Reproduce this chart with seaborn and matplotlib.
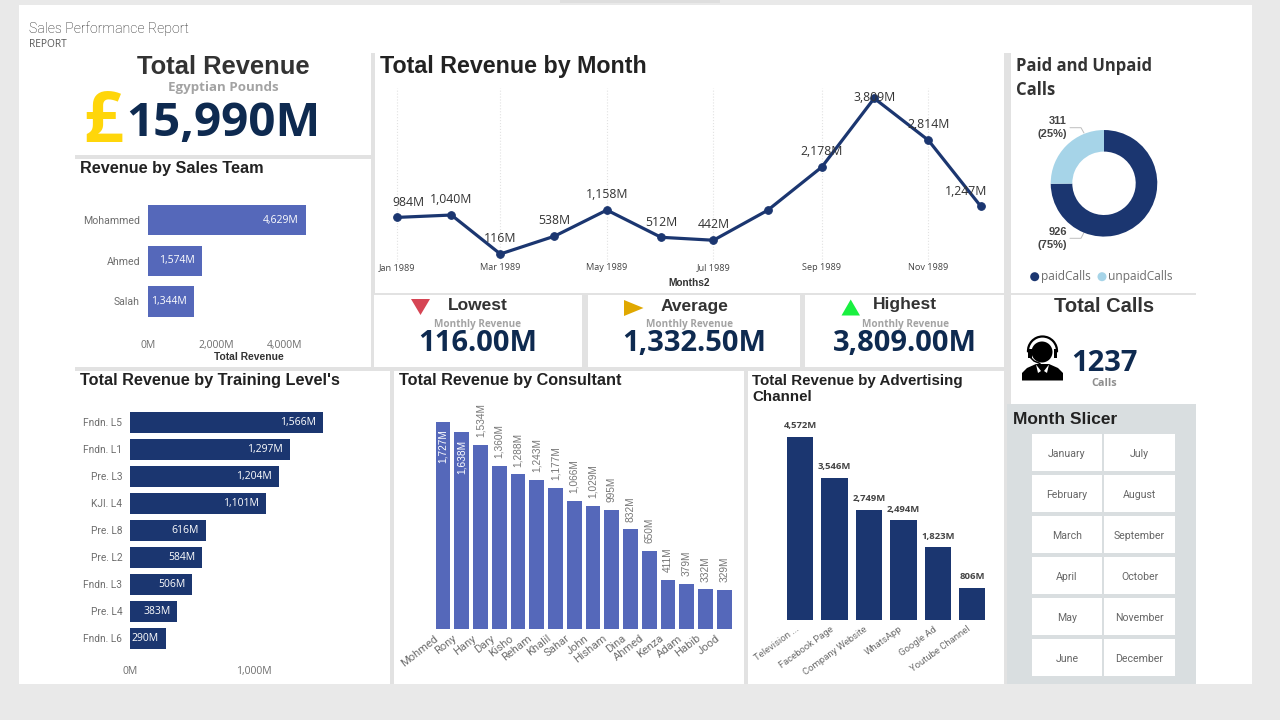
import pandas as pd
import matplotlib
matplotlib.use("Agg")
import matplotlib.pyplot as plt
import matplotlib.dates as mdates
from matplotlib.patches import Rectangle, Polygon, Circle, Arc
from matplotlib.transforms import ScaledTranslation
import seaborn as sns

# data
months = ['1989-01-01', '1989-02-01', '1989-03-01', '1989-04-01', '1989-05-01', '1989-06-01',
          '1989-07-01', '1989-08-01', '1989-09-01', '1989-10-01', '1989-11-01', '1989-12-01']
month_revenue = [984, 1040, 116, 538, 1158, 512, 442, 1152, 2178, 3809, 2814, 1247]
month_hidden_label = ['1989-08-01']

team_names = ['Mohammed', 'Ahmed', 'Salah']
team_revenue = [4629, 1574, 1344]

level_names = ['Fndn. L5', 'Fndn. L1', 'Pre. L3', 'KJI. L4', 'Pre. L8', 'Pre. L2', 'Fndn. L3', 'Pre. L4', 'Fndn. L6']
level_revenue = [1566, 1297, 1204, 1101, 616, 584, 506, 383, 290]

consultant_names = ['Mohmed', 'Rony', 'Hany', 'Dary', 'Kisho', 'Reham', 'Khalil', 'Sahar',
                    'John', 'Hisham', 'Dina', 'Ahmed', 'Kenza', 'Adam', 'Habib', 'Jood']
consultant_revenue = [1727, 1638, 1534, 1360, 1288, 1243, 1177, 1066, 1029, 995, 832, 650, 411, 379, 332, 329]

channel_names = ['Television ...', 'Facebook Page', 'Company Website', 'WhatsApp', 'Google Ad', 'Youtube Channel']
channel_revenue = [4572, 3546, 2749, 2494, 1823, 806]

call_names = ['paidCalls', 'unpaidCalls']
call_counts = [926, 311]

slicer_left = ['January', 'February', 'March', 'April', 'May', 'June']
slicer_right = ['July', 'August', 'September', 'October', 'November', 'December']

NAVY = '#1B3670'
BLUE = '#5568BA'
INK = '#0E2A50'
LIGHT = '#A6D4E8'
GRAY = '#6E6E6E'
W, H = 1280, 720

sns.set_theme(style="white")
plt.rcParams['font.family'] = ['Open Sans', 'DejaVu Sans']

fig = plt.figure(figsize=(W / 100, H / 100), dpi=100, facecolor='#E9E9E9')

# page layer, works in pixels
bg = fig.add_axes([0, 0, 1, 1], zorder=0)
bg.set_xlim(0, W)
bg.set_ylim(H, 0)
bg.axis('off')


def box(x0, y0, x1, y1, color='white'):
    bg.add_patch(Rectangle((x0, y0), x1 - x0, y1 - y0, fc=color, ec='none'))


def txt(x, y, s, size, color='#333333', ha='center', weight='normal', family='Open Sans', va='center', **kw):
    bg.text(x, y, s, fontsize=size, color=color, ha=ha, va=va, fontweight=weight, family=family, **kw)


def title(x, y, s, size=11.7):
    txt(x, y, s, size, color='#222222', ha='left', weight='bold', family='Liberation Sans')


def chart_axes(x0, y0, x1, y1):
    ax = fig.add_axes([x0 / W, 1 - y1 / H, (x1 - x0) / W, (y1 - y0) / H], zorder=1)
    ax.patch.set_alpha(0)
    sns.despine(ax=ax, left=True, bottom=True)
    return ax


def roboto_ticks(ax, axis, size, pad):
    ax.tick_params(axis=axis, length=0, pad=pad, labelsize=size, labelcolor=GRAY, labelfontfamily='Roboto')


def slant_labels(ax, angle, shift_px):
    offset = ScaledTranslation(shift_px / 100, 0, fig.dpi_scale_trans)
    for lab in ax.get_xticklabels():
        lab.set_rotation(angle)
        lab.set_ha('right')
        lab.set_rotation_mode('anchor')
        lab.set_transform(lab.get_transform() + offset)


box(19, 5, 1252, 684)
box(560, 0, 720, 3, '#DEDEDE')
box(75, 53, 1196, 684, '#E2E2E2')
panels = [(75, 53, 371, 155), (75, 159, 371, 367), (375, 53, 1004, 293),
          (374, 295, 582, 367), (588, 295, 800, 367), (805, 295, 1004, 367),
          (1011, 53, 1196, 293), (1011, 295, 1196, 404),
          (75, 371, 390, 684), (394, 371, 744, 684), (748, 371, 1004, 684)]
for p in panels:
    box(*p)
box(1007, 404, 1196, 684, '#D9DEE0')

# header
txt(29, 29, 'Sales Performance Report', 10.2, color='#222222', ha='left', family='Roboto', weight='light')
txt(29, 44.5, 'REPORT', 7.3, color='#555555', ha='left')

# total revenue card
txt(223, 67, 'Total Revenue', 18.4, color='#333333', family='Liberation Sans', weight='bold')
txt(223, 88, 'Egyptian Pounds', 9.6, color='#A3A3A3', weight='bold')
txt(103, 124, '£', 50, color='#FFD60A', weight='bold')
txt(223.5, 123, '15,990M', 34.2, color=INK, weight='bold')

# kpi cards
kpi_heads = ['Lowest', 'Average', 'Highest']
kpi_values = ['116.00M', '1,332.50M', '3,809.00M']
for head, value, cx, cy in zip(kpi_heads, kpi_values, (478, 694.5, 905), (306, 306, 304.5)):
    txt(cx, cy, head, 12.5, color='#333333', family='Liberation Sans', weight='bold')
    txt(cx if head != 'Average' else 689, 324.5, 'Monthly Revenue', 7.2, color='#A3A3A3', weight='bold')
    txt(cx, 343.5, value, 21, color=INK, weight='bold')
bg.add_patch(Polygon([(411, 299), (430, 299), (420.5, 315)], fc='#D64554', ec='none'))
bg.add_patch(Polygon([(624, 300), (643.5, 308), (624, 316)], fc='#E0A800', ec='none'))
bg.add_patch(Polygon([(841.5, 315.5), (860, 315.5), (850.7, 299.5)], fc='#19F040', ec='none'))

# line chart
title(380, 66.5, 'Total Revenue by Month', 16.75)
ax = chart_axes(385, 88, 1000, 262)
month_dates = pd.to_datetime(months)
sns.lineplot(x=month_dates, y=month_revenue, color=NAVY, linewidth=2.3, marker='o', markersize=5.5,
             markeredgecolor=NAVY, ax=ax)
ax.set_xlabel('')
ax.set_xlim(pd.Timestamp('1988-12-25'), pd.Timestamp('1989-12-12'))
ax.set_ylim(-74, 4053)
ax.set_yticks([])
ax.set_xticks(month_dates[::2])
ax.xaxis.set_major_formatter(mdates.DateFormatter('%b %Y'))
ax.tick_params(axis='x', length=0, pad=0.5, labelsize=6.6, labelcolor='#444444')
ax.grid(axis='x', color='#E2E2E2', linestyle=':', linewidth=0.8)
nudge = {0: (8, 11), 9: (0, 0.5), 11: (-10.5, 11)}
for i, (d, v) in enumerate(zip(month_dates, month_revenue)):
    if str(d.date()) in month_hidden_label:
        continue
    ax.annotate(f'{v:,}M', (d, v), xytext=nudge.get(i, (0, 11)), textcoords='offset points',
                ha='center', va='center', fontsize=8.8, color='#333333')
txt(689, 283, 'Months2', 7.3, color='#333333', family='Liberation Sans', weight='bold')

# sales team
title(80, 168.5, 'Revenue by Sales Team')
ax = chart_axes(148.3, 200, 360, 321.6)
sns.barplot(x=team_revenue, y=team_names, color=BLUE, saturation=1, width=0.75, linewidth=0, ax=ax)
ax.set_xlim(0, 6226)
ax.set_xticks([0, 2000, 4000], ['0M', '2,000M', '4,000M'])
ax.tick_params(axis='x', length=0, pad=13, labelsize=7.5, labelcolor=GRAY)
roboto_ticks(ax, 'y', 7.6, 6)
for i, v in enumerate(team_revenue):
    ax.annotate(f'{v:,}M', (v, i), xytext=(-5, 0), textcoords='offset points', ha='right', va='center',
                fontsize=7.5, color='white')
txt(249, 357, 'Total Revenue', 7.4, color='#333333', family='Liberation Sans', weight='bold')

# training level
title(80, 380.5, "Total Revenue by Training Level's")
ax = chart_axes(130, 408.8, 385, 651.7)
sns.barplot(x=level_revenue, y=level_names, color=NAVY, saturation=1, width=0.78, linewidth=0, ax=ax)
ax.set_xlim(0, 2066)
ax.set_xticks([0, 1000], ['0M', '1,000M'])
ax.tick_params(axis='x', length=0, pad=10, labelsize=7.5, labelcolor=GRAY)
roboto_ticks(ax, 'y', 7.3, 5.5)
for i, v in enumerate(level_revenue):
    ax.annotate(f'{v:,}M', (v, i), xytext=(-5, 0), textcoords='offset points', ha='right', va='center',
                fontsize=7.5, color='white')

# consultant
title(399, 380.5, 'Total Revenue by Consultant')
ax = chart_axes(433.6, 395, 733.6, 629)
sns.barplot(x=consultant_names, y=consultant_revenue, color=BLUE, saturation=1, width=0.78, linewidth=0, ax=ax)
ax.set_ylim(0, 1950)
ax.set_yticks([])
roboto_ticks(ax, 'x', 8, 3)
slant_labels(ax, 38, -9)
for i, v in enumerate(consultant_revenue):
    inside = v > 1600
    ax.annotate(f'{v:,}M', (i, v), xytext=(0, -5.5 if inside else 5.5), textcoords='offset points', rotation=90,
                ha='center', va='top' if inside else 'bottom', fontsize=7.3,
                color='white' if inside else '#777777', family='Liberation Sans')

# advertising channel
title(752, 380.5, 'Total Revenue by Advertising', 10.9)
title(752, 397, 'Channel', 10.9)
ax = chart_axes(783, 420, 989.4, 620.3)
sns.barplot(x=channel_names, y=channel_revenue, color=NAVY, saturation=1, width=0.77, linewidth=0, ax=ax)
ax.set_ylim(0, 4995)
ax.set_yticks([])
roboto_ticks(ax, 'x', 6.8, 3)
slant_labels(ax, 36, -5)
for i, v in enumerate(channel_revenue):
    ax.annotate(f'{v:,}M', (i, v), xytext=(0, 8), textcoords='offset points', ha='center', va='center',
                fontsize=6.8, color='#444444', fontweight='bold')

# donut
txt(1016, 66, 'Paid and Unpaid', 12, color='#333333', ha='left', weight='bold')
txt(1016, 90, 'Calls', 12, color='#333333', ha='left', weight='bold')
ax = chart_axes(1104 - 66.6, 183.3 - 66.6, 1104 + 66.6, 183.3 + 66.6)
ax.pie(call_counts, colors=[NAVY, LIGHT], startangle=90, counterclock=False,
       wedgeprops={'width': 0.405, 'linewidth': 0})
total_calls = sum(call_counts)
for count, y0, y1, points in zip(call_counts[::-1], (120.7, 232), (134.3, 245.5),
                                 ([(1070, 127.7), (1081, 127.7), (1084, 133)],
                                  [(1070, 238.3), (1081, 238.3), (1084, 232.5)])):
    txt(1067, y0, f'{count}', 8, color='#444444', ha='right', weight='bold', family='Liberation Sans')
    txt(1067, y1, f'({count / total_calls:.0%})', 8, color='#444444', ha='right', weight='bold', family='Liberation Sans')
    bg.plot(*zip(*points), color='#BDBDBD', linewidth=0.7)
bg.add_patch(Circle((1034.7, 276.7), 4.5, fc=NAVY, ec='none'))
bg.add_patch(Circle((1102, 276.7), 4.5, fc=LIGHT, ec='none'))
txt(1041, 276.7, call_names[0], 8.6, color=GRAY, ha='left')
txt(1108, 276.7, call_names[1], 8.6, color=GRAY, ha='left')

# total calls
txt(1104, 306, 'Total Calls', 14.5, color='#333333', family='Liberation Sans', weight='bold')
txt(1104, 363.5, f'{total_calls}', 21, color=INK, weight='bold')
txt(1104, 383.5, 'Calls', 7.8, color='#8E8E8E', weight='bold')

# agent icon: headset ring, face, mic boom, shoulders with a white collar
bg.add_patch(Arc((1042.5, 351), 29, 29, theta1=175, theta2=5, ec='black', lw=1.6))
bg.add_patch(Circle((1042, 352), 10.5, fc='black', ec='none'))
bg.add_patch(Rectangle((1028, 349), 3.5, 9, fc='black', ec='none'))
bg.add_patch(Rectangle((1053.5, 349), 3.5, 9, fc='black', ec='none'))
bg.plot([1030, 1034, 1040], [357, 361, 363.5], color='black', linewidth=1.1)
bg.add_patch(Polygon([(1022, 380.5), (1022, 373), (1027, 368), (1036, 364), (1049, 364),
                      (1058, 368), (1063, 373), (1063, 380.5)], fc='black', ec='none'))
bg.add_patch(Polygon([(1036, 364.5), (1041, 371), (1038, 373)], fc='white', ec='none'))
bg.add_patch(Polygon([(1049, 364.5), (1044, 371), (1047, 373)], fc='white', ec='none'))

# slicer
title(1013, 419.5, 'Month Slicer', 12.5)
row_tops = [434, 475, 516, 557, 598, 639]
for top, left, right in zip(row_tops, slicer_left, slicer_right):
    box(1031.7, top, 1102.3, top + 37.3)
    box(1104, top, 1175, top + 37.3)
    txt(1067, top + 19, left, 7.6, color='#666666', va='center_baseline', family='Roboto')
    txt(1139.5, top + 19, right, 7.6, color='#666666', va='center_baseline', family='Roboto')

plt.savefig('out.png', dpi=100, facecolor=fig.get_facecolor())
plt.close()
